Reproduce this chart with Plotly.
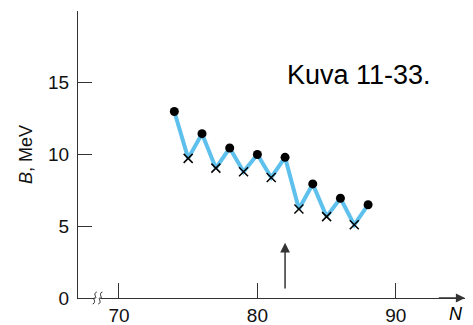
import plotly.graph_objects as go

# even N (filled dots) and odd N (crosses)
n_even = [74, 76, 78, 80, 82, 84, 86, 88]
b_even = [13.0, 11.45, 10.45, 10.0, 9.8, 7.95, 6.95, 6.5]
n_odd = [75, 77, 79, 81, 83, 85, 87]
b_odd = [9.73, 9.05, 8.8, 8.4, 6.2, 5.67, 5.1]

x_ticks = [70, 80, 90]
y_ticks = [0, 5, 10, 15]

# zigzag line through all points in order of N
pts = sorted(zip(n_even + n_odd, b_even + b_odd))
n_all = [p[0] for p in pts]
b_all = [p[1] for p in pts]

font = 'Liberation Sans, Arial, Helvetica, sans-serif'
axcol = '#333333'

# page body has an 8px margin, so the figure starts at (8, 8) in the window
OFF = 8
W, H = 465, 317
l, r, t, b = 70, 8, 3, 27
pw, ph = W - l - r, H - t - b


def px(x, y):
    # window pixel position -> paper coords
    return (x - OFF - l) / pw, (H - b - (y - OFF)) / ph


fig = go.Figure()
fig.add_trace(go.Scatter(x=n_all, y=b_all, mode='lines',
                         line=dict(color='#5ec0ec', width=4), hoverinfo='skip'))
fig.add_trace(go.Scatter(x=n_even, y=b_even, mode='markers',
                         marker=dict(color='black', size=9)))
fig.add_trace(go.Scatter(x=n_odd, y=b_odd, mode='markers',
                         marker=dict(symbol='x-thin', size=9, line=dict(color='black', width=1.5))))

# arrow at N = 82
fig.add_annotation(x=82, y=3.85, ax=82, ay=0.55, xref='x', yref='y', axref='x', ayref='y',
                   showarrow=True, arrowhead=2, arrowsize=1.3, arrowwidth=1.5, arrowcolor=axcol, text='')
# x axis arrow head
fig.add_annotation(x=95.0, y=0, ax=93.0, ay=0, xref='x', yref='y', axref='x', ayref='y',
                   showarrow=True, arrowhead=2, arrowsize=1.4, arrowwidth=1.3, arrowcolor=axcol, text='')

# axis break: white gap plus two squiggles (y in paper units, 1 MeV = 0.05)
fig.add_shape(type='rect', xref='x', yref='paper', x0=68.25, x1=68.65, y0=-0.008, y1=0.008,
              fillcolor='white', line=dict(width=0), layer='above')
for x0 in [68.25, 68.65]:
    fig.add_shape(type='path', xref='x', yref='paper', layer='above',
                  path=f'M {x0-0.15},-0.021 C {x0+0.2},-0.015 {x0-0.25},0.0025 {x0},0.0 '
                       f'C {x0+0.25},-0.0025 {x0-0.2},0.015 {x0+0.15},0.021',
                  line=dict(color=axcol, width=1))

xa, ya = px(359, 75)
fig.add_annotation(x=xa, y=ya, xref='paper', yref='paper', text='Kuva 11-33.', showarrow=False,
                   xanchor='center', yanchor='middle',
                   font=dict(size=27, color='black', family=font))
xa, ya = px(456, 314)
fig.add_annotation(x=xa, y=ya, xref='paper', yref='paper', text='<i>N</i>', showarrow=False,
                   xanchor='center', yanchor='middle', borderpad=0,
                   font=dict(size=18, color='black', family=font))
xa, ya = px(26, 155)
fig.add_annotation(x=xa, y=ya, xref='paper', yref='paper', text='<i>B</i>, MeV', showarrow=False,
                   textangle=-90, xanchor='center', yanchor='middle',
                   font=dict(size=18, color='#111111', family=font))

fig.update_layout(
    width=W, height=H,
    margin=dict(l=l, r=r, t=t, b=b, autoexpand=False),
    paper_bgcolor='white', plot_bgcolor='white',
    showlegend=False,
    font=dict(family=font, size=19, color='#111111'),
    xaxis=dict(range=[67.04, 95.0], tickvals=x_ticks, ticks='inside', ticklen=15,
               tickcolor=axcol, tickwidth=1.3, showline=True, linecolor=axcol, linewidth=1.3,
               showgrid=False, zeroline=False, automargin=False),
    yaxis=dict(range=[0, 20], tickvals=y_ticks, ticks='inside', ticklen=14,
               tickcolor=axcol, tickwidth=1.3, showline=True, linecolor=axcol, linewidth=1.3,
               showgrid=False, zeroline=False, automargin=False, ticklabelstandoff=4),
)

fig.write_html('out.html')
